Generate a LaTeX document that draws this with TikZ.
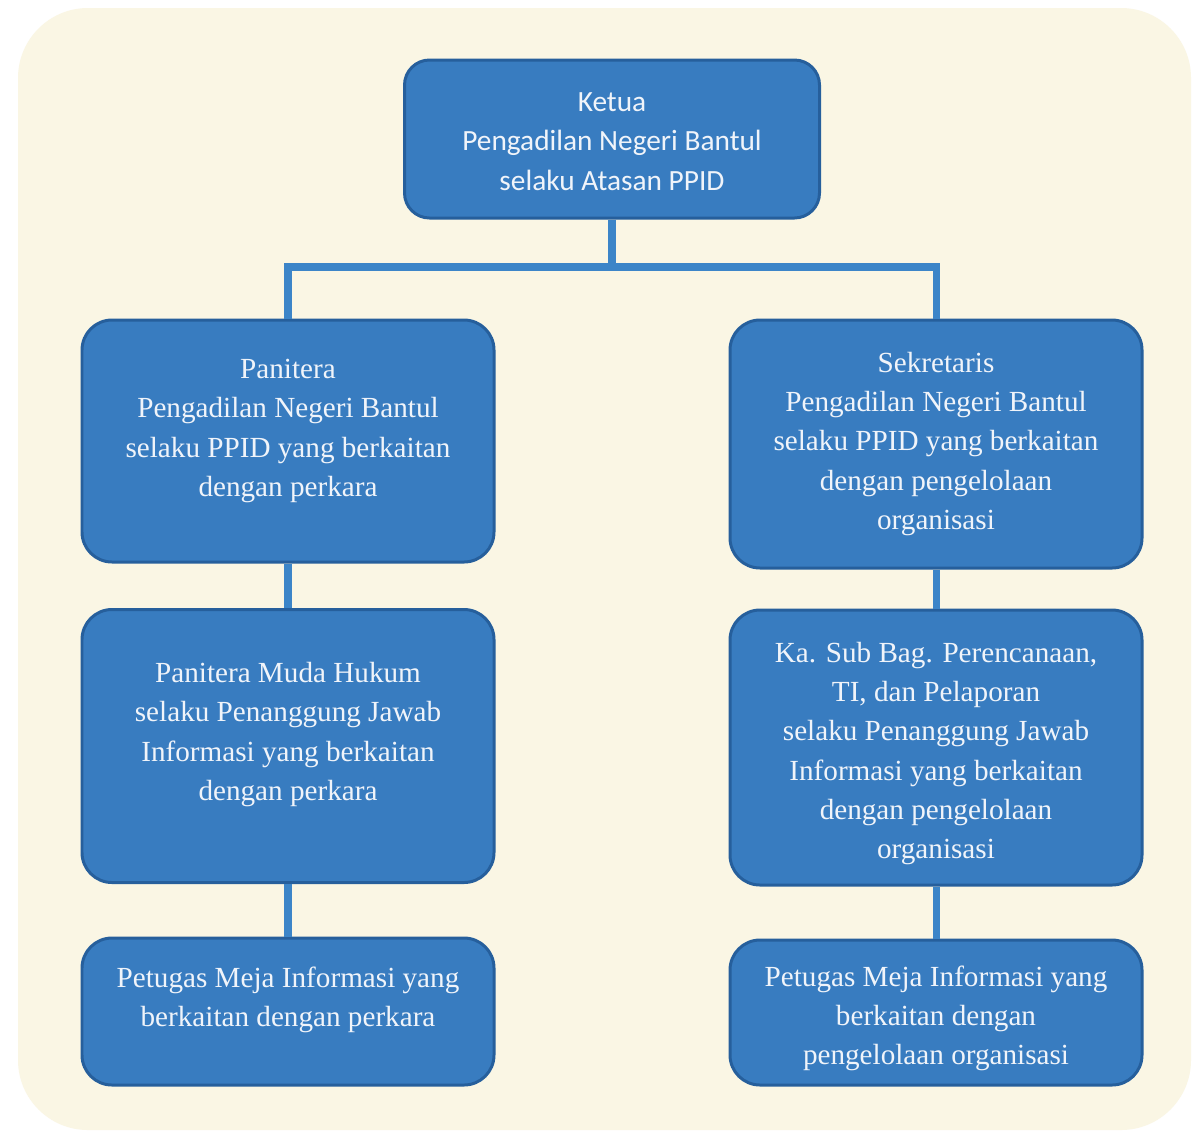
\documentclass[tikz,border=0pt]{standalone}
\usepackage{fontspec}
\setmainfont{Liberation Serif}
\newfontfamily\calibfont{Carlito}
\usepackage{tikz}
\usetikzlibrary{calc}
\definecolor{cream}{RGB}{250,246,228}
\definecolor{boxblue}{RGB}{56,124,192}
\definecolor{edgeblue}{RGB}{38,95,156}
\definecolor{lineblue}{RGB}{60,133,200}
\definecolor{textwhite}{RGB}{240,244,250}

\begin{document}
\begin{tikzpicture}[
  orgbox/.style={draw=edgeblue, line width=1.7pt, fill=boxblue,
    rounded corners=0.6cm, minimum width=8.24cm},
  orgtext/.style={text=textwhite, align=center,
    font=\fontsize{16.6}{22.3}\selectfont},
  conn/.style={draw=lineblue, line width=4pt}
]

% ----------------------
% Background
% ----------------------
\useasboundingbox (0,0) rectangle (24,-22.68);
\fill[white] (0,0) rectangle (24,-22.68);
\fill[cream, rounded corners=1.4cm] (0.36,-0.16) rectangle (23.82,-22.6);

% ----------------------
% Boxes
% ----------------------
\node[orgbox, minimum width=8.3cm, minimum height=3.16cm, rounded corners=0.5cm]
  (ketua) at (12.24,-2.78) {};
\node[orgbox, minimum height=4.84cm] (panitera) at (5.76,-8.82) {};
\node[orgbox, minimum height=4.96cm] (sekretaris) at (18.72,-8.88) {};
\node[orgbox, minimum height=5.46cm] (muda) at (5.76,-14.92) {};
\node[orgbox, minimum height=5.5cm] (kasub) at (18.72,-14.95) {};
\node[orgbox, minimum height=2.94cm] (petugasL) at (5.76,-20.23) {};
\node[orgbox, minimum height=2.9cm] (petugasR) at (18.72,-20.25) {};

% ----------------------
% Connectors
% ----------------------
\coordinate (bus) at (12.24,-5.34);
\draw[conn] (ketua.south) -- (bus);
\draw[conn] (panitera.north) |- (bus) -| (sekretaris.north);
\draw[conn] (panitera.south) -- (muda.north);
\draw[conn] (sekretaris.south) -- (kasub.north);
\draw[conn] (muda.south) -- (petugasL.north);
\draw[conn] (kasub.south) -- (petugasR.north);

% ----------------------
% Box texts
% ----------------------
\node[orgtext, font=\calibfont\fontsize{16.7}{22.6}\selectfont] (ketuaT) at ([yshift=-0.05cm]ketua.center)
{Ketua\\Pengadilan Negeri Bantul\\selaku Atasan PPID};

\node[orgtext] (paniteraT) at ([yshift=0.2cm]panitera.center)
{Panitera\\Pengadilan Negeri Bantul\\selaku PPID yang berkaitan\\dengan perkara};

\node[orgtext] (sekretarisT) at ([yshift=0cm]sekretaris.center)
{Sekretaris\\Pengadilan Negeri Bantul\\selaku PPID yang berkaitan\\dengan pengelolaan\\organisasi};

\node[orgtext] (mudaT) at ([yshift=0.23cm]muda.center)
{Panitera Muda Hukum\\selaku Penanggung Jawab\\Informasi yang berkaitan\\dengan perkara};

\node[orgtext] (kasubT) at ([yshift=-0.12cm]kasub.center)
{Ka. Sub Bag. Perencanaan,\\TI, dan Pelaporan\\selaku Penanggung Jawab\\Informasi yang berkaitan\\dengan pengelolaan\\organisasi};

\node[orgtext] (petugasLT) at ([yshift=0.24cm]petugasL.center)
{Petugas Meja Informasi yang\\berkaitan dengan perkara};

\node[orgtext] (petugasRT) at ([yshift=-0.12cm]petugasR.center)
{Petugas Meja Informasi yang\\berkaitan dengan\\pengelolaan organisasi};

\end{tikzpicture}
\end{document}
